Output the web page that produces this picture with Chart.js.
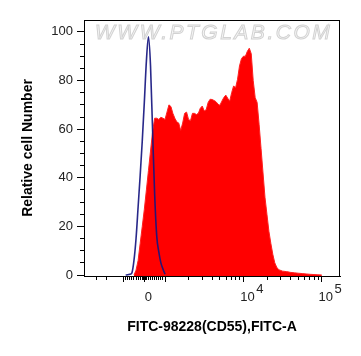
<!DOCTYPE html>
<html>
<head>
<meta charset="utf-8">
<script src="https://cdn.jsdelivr.net/npm/chart.js@4/dist/chart.umd.min.js"></script>
<style>
  html, body { margin: 0; padding: 0; background: #fff; }
  #c { display: block; }
</style>
</head>
<body>
<canvas id="c" width="361" height="356"></canvas>
<script>
// ---------- text ----------
const xAxisTitle = 'FITC-98228(CD55),FITC-A';
const yAxisTitle = 'Relative cell Number';
const watermarkText = 'WWW.PTGLAB.COM';

// ---------- data (fluorescence intensity vs relative cell number) ----------
// isotype control (blue outline)
const isoX = [-900,-800,-700,-600,-500,-400,-300,-200,-100,0,100,200,300,400,500,600,700,800,900,1000];
const isoY = [0,0.1,0.3,0.9,6,15,28,41,55,71,88,98,86,59,33,16,9.5,5,2.5,0.3];

// CD55 stained sample (red filled)
const cd55X = [-500,-400,-300,-200,-100,0,100,200,300,400,500,600,700,800,900,1000,
  1059,1122,1189,1259,1334,1413,1496,1585,1679,1778,
  1884,1995,2113,2239,2371,2512,2661,2818,2985,3162,
  3350,3548,3758,3981,4217,4467,4732,5012,5309,5623,
  5957,6310,6683,7079,7499,7943,8414,8913,9441,10000,
  10593,11220,11885,12589,13335,14125,14962,15849,16788,17783,
  18836,19953,21135,22387,23714,25119,26607,28184,
  31623,35481,39811,44668,50119,56234,63096,70795,79433,89125,100000];
const cd55Y = [0,2,6,13,20,27,35,43,51,59,64.5,64.5,64,64.9,64.5,64,
  67,70,69.3,66.5,64.5,63,62.5,59.5,62.5,66.5,
  67,64,63.5,66.5,66.5,66,66.5,68.6,69.5,67.5,
  68,71,72.3,72.2,71.8,71.3,70.3,69.8,71.5,73,
  74,72.7,71.5,75,77.8,77,80.5,86,89,90,
  90,92,93.3,91,80,73,71,62,52,42,
  32,25,18,13,8.5,5,3.2,2.2,
  1.6,1.4,1.1,0.9,0.75,0.6,0.45,0.3,0.2,0.1,0];

// ---------- axes ----------
const xMin = -5100, xMax = 170600;
const xMajorTicks = [-1000, 0, 1000, 10000, 100000];
const xMinorTicks = [-3000,-2000,
  -900,-800,-700,-600,-500,-400,-300,-200,
  -100,-80,-60,-40,-20,20,40,60,80,100,
  200,300,400,500,600,700,800,900,
  2000,3000,4000,5000,6000,7000,8000,9000,
  20000,30000,40000,50000,60000,70000,80000,90000];
const xLabelValues = [0, 10000, 100000];
const xLabelBases  = ['0', '10', '10'];
const xLabelExps   = ['', '4', '5'];

const yMin = -0.4, yMax = 104.9;
const yTicks = [0,5,10,15,20,25,30,35,40,45,50,55,60,65,70,75,80,85,90,95,100];
const yMajorTicks = [0,20,40,60,80,100];

// ---------- biexponential-like display transform ----------
const LIN = 20.7, DEC = 78.4, NEG = 56;
function fwd(v) {
  if (v >= 1000) return LIN + DEC * Math.log10(v / 1000);
  if (v <= -1000) return -(LIN + NEG * Math.log10(-v / 1000));
  return LIN * v / 1000;
}
function inv(d) {
  if (d >= LIN) return 1000 * Math.pow(10, (d - LIN) / DEC);
  if (d <= -LIN) return -1000 * Math.pow(10, (-d - LIN) / NEG);
  return d * 1000 / LIN;
}

class BiexScale extends Chart.LinearScale {
  determineDataLimits() {
    this.min = this.options.min;
    this.max = this.options.max;
  }
  buildTicks() {
    const all = xMajorTicks.concat(xMinorTicks).sort((a, b) => a - b);
    return all.map(v => ({ value: v, major: false }));
  }
  getPixelForValue(v) {
    const a = fwd(this.min), b = fwd(this.max);
    return this.getPixelForDecimal((fwd(v) - a) / (b - a));
  }
  getValueForPixel(p) {
    const a = fwd(this.min), b = fwd(this.max);
    return inv(a + this.getDecimalForPixel(p) * (b - a));
  }
}
BiexScale.id = 'biex';
BiexScale.defaults = {};
Chart.register(BiexScale);

const FONT = '"Liberation Sans", Arial, sans-serif';
Chart.defaults.font.family = FONT;

const xTickLen = 6, xTickPad = 8, tickFontSize = 13;
const xLabelOffset = 4;

const decorPlugin = {
  id: 'decor',
  beforeDatasetsDraw(chart) {
    const { ctx, chartArea: a } = chart;
    ctx.save();
    ctx.font = 'italic 21px ' + FONT;
    try { ctx.letterSpacing = '2.5px'; } catch (e) {}
    ctx.textAlign = 'left';
    ctx.textBaseline = 'middle';
    ctx.fillStyle = '#f7f7f7';
    ctx.strokeStyle = '#d2d2d2';
    ctx.lineWidth = 1;
    ctx.fillText(watermarkText, a.left + 11, a.top + 13);
    ctx.strokeText(watermarkText, a.left + 11, a.top + 13);
    ctx.restore();
  },
  afterDatasetsDraw(chart) {
    const { ctx, chartArea: a } = chart;
    ctx.save();
    ctx.strokeStyle = '#000';
    ctx.lineWidth = 1;
    ctx.strokeRect(a.left + 0.5, a.top + 0.5, a.right - a.left - 1, a.bottom - a.top);
    ctx.restore();
  },
  afterDraw(chart) {
    const { ctx } = chart;
    const xs = chart.scales.x;
    ctx.save();
    ctx.font = tickFontSize + 'px ' + FONT;
    ctx.fillStyle = '#222';
    ctx.textAlign = 'left';
    ctx.textBaseline = 'middle';
    const cy = xs.top + xTickLen + xTickPad + tickFontSize * 1.2 / 2;
    xLabelValues.forEach((v, i) => {
      if (!xLabelExps[i]) return;
      const px = xs.getPixelForValue(v) + xLabelOffset;
      const w = ctx.measureText(xLabelBases[i]).width;
      ctx.fillText(xLabelExps[i], px + w / 2 + 1.5, cy - 8);
    });
    ctx.restore();
  }
};

new Chart(document.getElementById('c'), {
  type: 'line',
  data: {
    datasets: [
      {
        label: 'Isotype control',
        data: isoX.map((x, i) => ({ x, y: isoY[i] })),
        borderColor: 'rgba(22,22,128,0.92)',
        borderWidth: 1.6,
        pointRadius: 0,
        fill: false,
        tension: 0.3,
        cubicInterpolationMode: 'monotone',
        order: 0
      },
      {
        label: 'CD55',
        data: cd55X.map((x, i) => ({ x, y: cd55Y[i] })),
        borderColor: '#ff2020',
        borderWidth: 1,
        backgroundColor: '#ff0000',
        pointRadius: 0,
        fill: 'start',
        tension: 0,
        order: 1
      }
    ]
  },
  options: {
    responsive: false,
    animation: false,
    devicePixelRatio: 1,
    layout: { padding: { left: 0, right: 21, top: 20, bottom: 0 } },
    plugins: { legend: { display: false }, tooltip: { enabled: false } },
    scales: {
      x: {
        type: 'biex',
        min: xMin,
        max: xMax,
        afterFit: s => { s.height = 80; },
        border: { display: true, color: '#000', width: 1 },
        grid: {
          display: true,
          drawOnChartArea: false,
          drawTicks: true,
          tickLength: xTickLen,
          tickColor: '#000',
          tickWidth: 1,
          tickBorderDash: ctx => (ctx.tick && xMajorTicks.includes(ctx.tick.value)) ? [] : [3, 100]
        },
        ticks: {
          autoSkip: false,
          maxRotation: 0,
          minRotation: 0,
          padding: xTickPad,
          labelOffset: xLabelOffset,
          color: '#222',
          font: { size: tickFontSize },
          callback: v => { const i = xLabelValues.indexOf(v); return i >= 0 ? xLabelBases[i] : ''; }
        },
        title: {
          display: true,
          text: xAxisTitle,
          color: '#000',
          font: { size: 14, weight: 'bold' },
          padding: { top: 0, bottom: 20.6 }
        }
      },
      y: {
        type: 'linear',
        min: yMin,
        max: yMax,
        afterFit: s => { s.width = 84; },
        afterBuildTicks: s => { s.ticks = yTicks.map(v => ({ value: v })); },
        border: { display: true, color: '#000', width: 1 },
        grid: {
          display: true,
          drawOnChartArea: false,
          drawTicks: true,
          tickLength: 7,
          tickColor: '#000',
          tickWidth: 1,
          tickBorderDash: ctx => (ctx.tick && yMajorTicks.includes(ctx.tick.value)) ? [] : [0, 3, 4, 100]
        },
        ticks: {
          autoSkip: false,
          padding: 4,
          color: '#222',
          font: { size: tickFontSize },
          callback: v => yMajorTicks.includes(v) ? String(v) : ''
        },
        title: {
          display: true,
          text: yAxisTitle,
          color: '#000',
          font: { size: 14, weight: 'bold' },
          padding: { top: 20, bottom: 0 }
        }
      }
    }
  },
  plugins: [decorPlugin]
});
</script>
</body>
</html>
